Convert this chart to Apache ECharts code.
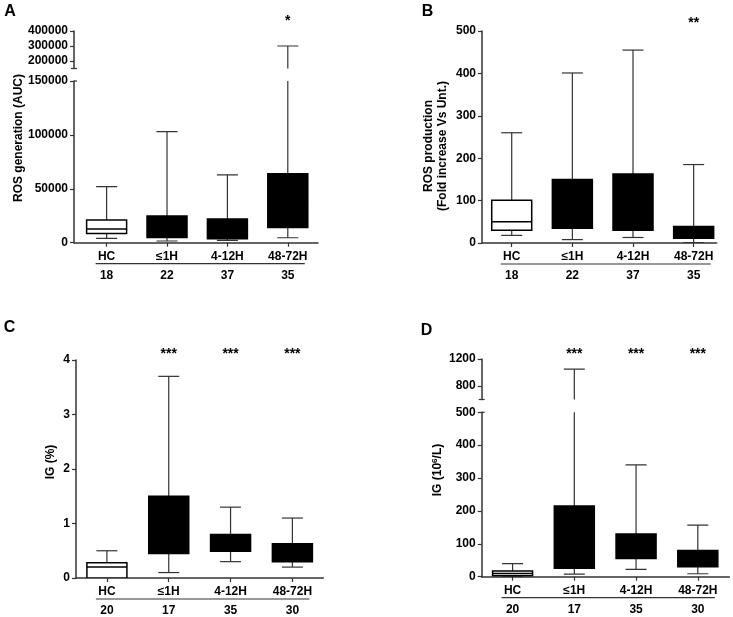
<!DOCTYPE html>
<html>
<head>
<meta charset="utf-8">
<script src="https://cdn.jsdelivr.net/npm/echarts@6.0.0/dist/echarts.min.js"></script>
<style>
  html, body { margin: 0; padding: 0; background: #fff; }
  #chart { width: 733px; height: 617px; }
</style>
</head>
<body>
<div id="chart"></div>
<script>
const groups = ["HC", "\u22641H", "4-12H", "48-72H"];

// counts under each group
const nRos = [18, 22, 37, 35];
const nIg = [20, 17, 35, 30];

// box data: [min, q1, median, q3, max]
const rosAuc = [
  [4000, 8600, 12700, 21000, 52000],
  [1600, 4900, 12000, 24700, 103000],
  [2200, 3700, 10000, 21900, 63000],
  [4600, 14200, 35000, 63900, 300000]
];
const rosFold = [
  [18, 30, 50, 101, 260],
  [8, 35, 80, 150, 401],
  [13, 30, 80, 163, 455],
  [1, 11, 20, 39, 185]
];
const igPct = [
  [0, 0, 0.2, 0.28, 0.5],
  [0.1, 0.45, 0.9, 1.5, 3.7],
  [0.3, 0.49, 0.6, 0.8, 1.3],
  [0.2, 0.3, 0.45, 0.63, 1.1]
];
const igAbs = [
  [1, 3, 10, 17, 40],
  [8, 26, 90, 215, 1050],
  [22, 55, 90, 130, 340],
  [9, 30, 50, 80, 157]
];

const sigA = ["", "", "", "*"];
const sigB = ["", "", "", "**"];
const sigC = ["", "***", "***", "***"];
const sigD = ["", "***", "***", "***"];

const FONT = "'Liberation Sans', Arial, sans-serif";
const AXIS = "#333";
const boxFill = ["#fff", "#000", "#000", "#000"];

const panels = [
  {
    box: rosAuc, n: nRos, sig: sigA, left: 74, width: 244, xMin: -0.54, xMax: 3.5, starDy: -10,
    lower: { top: 81, height: 161.7, min: 0, max: 150000, interval: 50000 },
    upper: { top: 31, height: 37.5, min: 150000, max: 400000, ticks: [200000, 300000, 400000] }
  },
  {
    box: rosFold, n: nRos, sig: sigB, left: 482, width: 234.7, xMin: -0.49, xMax: 3.38, starDy: -8,
    lower: { top: 31, height: 212, min: 0, max: 500, interval: 100 }
  },
  {
    box: igPct, n: nIg, sig: sigC, left: 76, width: 247.3, xMin: -0.5, xMax: 3.5, starDy: -6,
    lower: { top: 360, height: 218, min: 0, max: 4, interval: 1 }
  },
  {
    box: igAbs, n: nIg, sig: sigD, left: 481.7, width: 247.6, xMin: -0.5, xMax: 3.51, starDy: -5,
    lower: { top: 412.3, height: 164.4, min: 0, max: 500, interval: 100 },
    upper: { top: 359, height: 40.5, min: 600, max: 1200, ticks: [800, 1200] }
  }
];

const labelStyle = { color: "#000", fontSize: 12, fontWeight: "bold", fontFamily: FONT };

function ln(x1, y1, x2, y2, w, c) {
  return { type: "line", shape: { x1, y1, x2, y2 }, style: { stroke: c, lineWidth: w } };
}

function renderBox(params, api) {
  const i = api.value(0);
  const p = [1, 2, 3, 4, 5].map((k) => api.coord([i, api.value(k)]));
  const cx = p[0][0];
  const [lo, q1, md, q3, hi] = p.map((q) => q[1]);
  const bw = 40, cw = 21;
  return {
    type: "group",
    children: [
      ln(cx, hi, cx, q3, 1.2, "#333"),
      ln(cx, q1, cx, lo, 1.2, "#333"),
      ln(cx - cw / 2, hi, cx + cw / 2, hi, 1.2, "#333"),
      ln(cx - cw / 2, lo, cx + cw / 2, lo, 1.2, "#333"),
      {
        type: "rect",
        shape: { x: cx - bw / 2, y: q3, width: bw, height: q1 - q3 },
        style: { fill: boxFill[i], stroke: "#000", lineWidth: 1.5 }
      },
      ln(cx - bw / 2, md, cx + bw / 2, md, 1.5, "#000")
    ]
  };
}

const grid = [], xAxis = [], yAxis = [], series = [];

panels.forEach((pn) => {
  const boxData = pn.box.map((d, i) => [i].concat(d));
  const lw = pn.lower;

  // lower (main) part
  const gi = grid.length;
  grid.push({ left: pn.left, top: lw.top, width: pn.width, height: lw.height, outerBoundsMode: "none" });
  xAxis.push({
    type: "value", gridIndex: gi, min: pn.xMin, max: pn.xMax,
    splitLine: { show: false },
    axisLine: { onZero: false, lineStyle: { color: AXIS, width: 1.5 } },
    axisTick: { customValues: [0, 1, 2, 3], length: 4, lineStyle: { color: AXIS, width: 1.2 } },
    axisLabel: {
      customValues: [0, 1, 2, 3],
      margin: 4,
      formatter: (v) => "{a|" + groups[Math.round(v)] + "}\n{b|" + pn.n[Math.round(v)] + "}",
      rich: {
        a: Object.assign({ lineHeight: 19 }, labelStyle),
        b: Object.assign({ lineHeight: 19 }, labelStyle)
      }
    }
  });
  yAxis.push({
    type: "value", gridIndex: gi, min: lw.min, max: lw.max, interval: lw.interval,
    splitLine: { show: false },
    axisLine: { show: true, onZero: false, lineStyle: { color: AXIS, width: 1.5 } },
    axisTick: { show: true, length: 4, lineStyle: { color: AXIS, width: 1.2 } },
    axisLabel: Object.assign({ margin: 6, formatter: (v) => String(v) }, labelStyle)
  });
  series.push({
    type: "custom", xAxisIndex: gi, yAxisIndex: gi, clip: true,
    encode: { x: 0, y: [1, 2, 3, 4, 5] },
    renderItem: renderBox, data: boxData, animation: false
  });
  // separator line under the group names, break stub
  series.push({
    type: "custom", xAxisIndex: gi, yAxisIndex: gi, clip: false, silent: true,
    data: [[0, lw.min]], animation: false,
    renderItem: (params, api) => {
      const a = api.coord([0, lw.min]);
      const b = api.coord([3, lw.min]);
      const children = [ln(a[0] - 11, a[1] + 21, b[0] + 17, a[1] + 21, 1.2, AXIS)];
      if (pn.upper) {
        const t = api.coord([pn.xMin, lw.max]);
        children.push(ln(t[0], t[1], t[0] + 3, t[1], 1.2, AXIS));
      }
      return { type: "group", children };
    }
  });

  let topGi = gi, topMax = lw.max;

  // upper part of a broken axis
  if (pn.upper) {
    const up = pn.upper;
    const ui = grid.length;
    grid.push({ left: pn.left, top: up.top, width: pn.width, height: up.height, outerBoundsMode: "none" });
    xAxis.push({ type: "value", gridIndex: ui, min: pn.xMin, max: pn.xMax, show: false });
    yAxis.push({
      type: "value", gridIndex: ui, min: up.min, max: up.max,
      splitLine: { show: false },
      axisLine: { show: true, onZero: false, lineStyle: { color: AXIS, width: 1.5 } },
      axisTick: { show: true, customValues: up.ticks, length: 4, lineStyle: { color: AXIS, width: 1.2 } },
      axisLabel: Object.assign({ margin: 6, customValues: up.ticks, formatter: (v) => String(v) }, labelStyle)
    });
    series.push({
      type: "custom", xAxisIndex: ui, yAxisIndex: ui, clip: true,
      encode: { x: 0, y: [1, 2, 3, 4, 5] },
      renderItem: renderBox, data: boxData, animation: false
    });
    series.push({
      type: "custom", xAxisIndex: ui, yAxisIndex: ui, clip: false, silent: true,
      data: [[0, up.min]], animation: false,
      renderItem: (params, api) => {
        const t = api.coord([pn.xMin, up.min]);
        return ln(t[0] - 3, t[1], t[0] + 3, t[1], 1.2, AXIS);
      }
    });
    topGi = ui;
    topMax = up.max;
  }

  // significance stars
  series.push({
    type: "custom", xAxisIndex: topGi, yAxisIndex: topGi, clip: false, silent: true,
    data: pn.sig.map((s, i) => [i, topMax]), animation: false,
    renderItem: (params, api) => {
      const c = api.coord([api.value(0), api.value(1)]);
      return {
        type: "text", x: c[0], y: c[1] + pn.starDy,
        style: {
          text: pn.sig[params.dataIndex], align: "center", verticalAlign: "middle",
          fill: "#000", fontSize: 14, fontWeight: "bold", fontFamily: FONT
        }
      };
    }
  });
});

const textBase = { fill: "#000", fontWeight: "bold", fontFamily: FONT, align: "center", verticalAlign: "middle" };
function label(x, y, text, size, rot, extra) {
  return {
    type: "text", x, y, rotation: rot || 0,
    style: Object.assign({ text, fontSize: size }, textBase, extra || {})
  };
}

const graphic = [
  label(10, 12, "A", 16),
  label(427.5, 12, "B", 16),
  label(9.5, 327.5, "C", 16),
  label(426.5, 331, "D", 16),
  label(18.5, 138, "ROS generation (AUC)", 12, Math.PI / 2),
  label(436, 146, "ROS production\n(Fold increase Vs Unt.)", 12, Math.PI / 2, { lineHeight: 14 }),
  label(51, 462, "IG (%)", 12, Math.PI / 2),
  label(438, 470, "IG (10{s|6}/L)", 12, Math.PI / 2, {
    rich: { s: { fontSize: 8, fontWeight: "bold", fontFamily: FONT, fill: "#000", verticalAlign: "top", padding: [0, 0, 6, 0] } }
  })
];

const chart = echarts.init(document.getElementById("chart"));
chart.setOption({
  animation: false,
  backgroundColor: "#fff",
  grid,
  xAxis,
  yAxis,
  series,
  graphic
});
</script>
</body>
</html>
